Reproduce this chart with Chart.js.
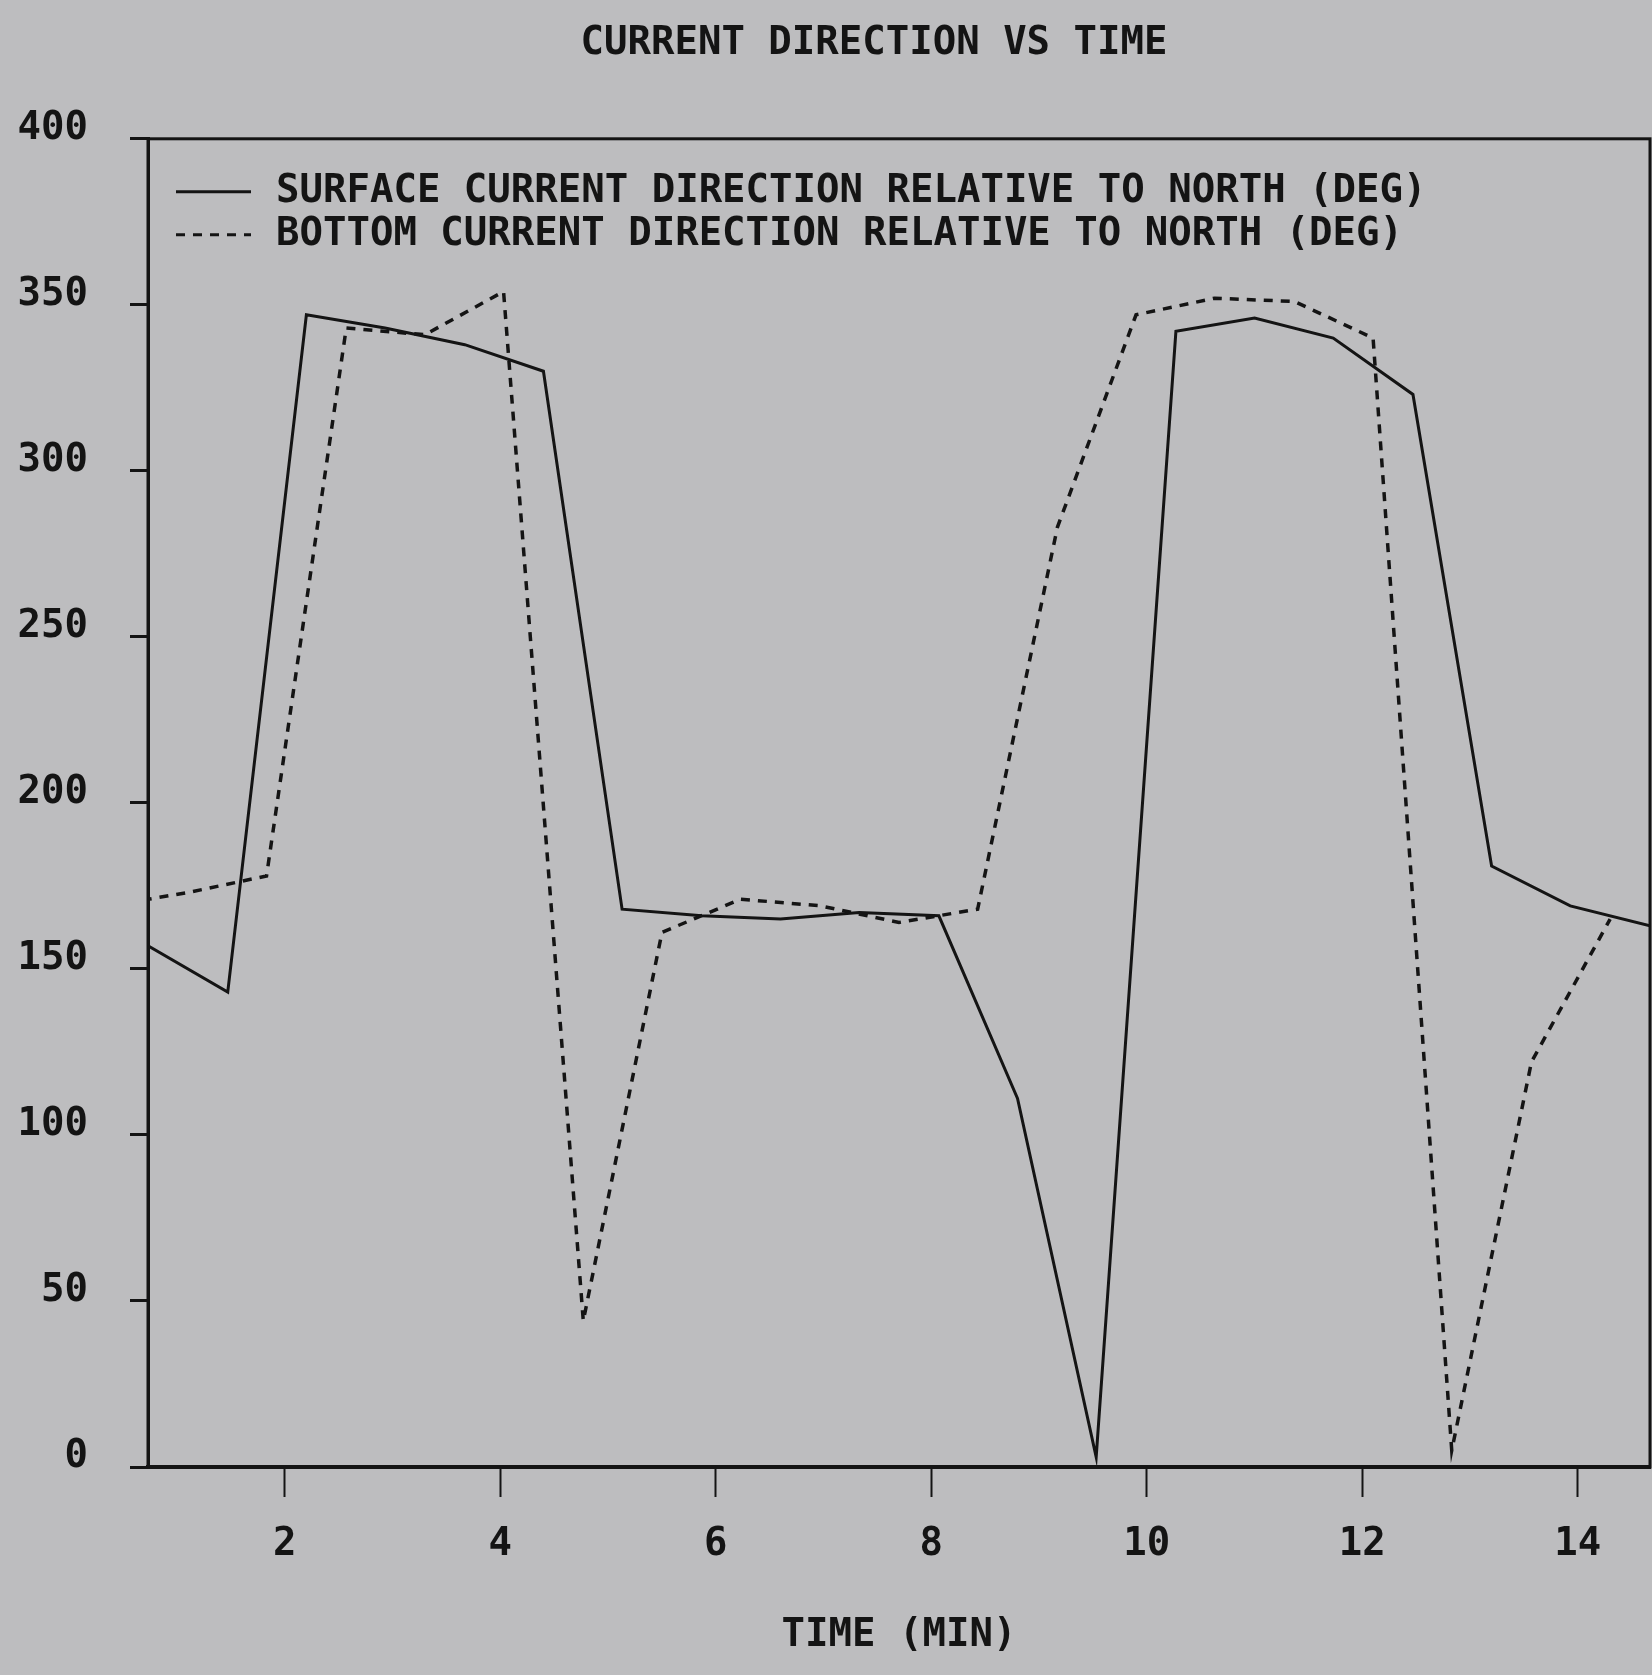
<!DOCTYPE html>
<html>
<head>
<meta charset="utf-8">
<title>Current direction vs time</title>
<script src="https://cdn.jsdelivr.net/npm/chart.js@4.4.1/dist/chart.umd.min.js"></script>
<style>
  body { margin: 0; background: #bdbdbf; }
  canvas { display: block; }
</style>
</head>
<body>
<canvas id="chart" width="1652" height="1675"></canvas>
<script>
// time in minutes, one reading every ~44 s
const surfaceTime = [0.73, 1.47, 2.2, 2.93, 3.67, 4.4, 5.13, 5.87, 6.6, 7.33, 8.07, 8.8, 9.53, 10.27, 11.0, 11.73, 12.47, 13.2, 13.93, 14.67];
const surfaceDir = [157, 143, 347, 343, 338, 330, 168, 166, 165, 167, 166, 111, 3, 342, 346, 340, 323, 181, 169, 163];

// bottom readings sit half a step later
const bottomTime = [0.37, 1.1, 1.83, 2.57, 3.3, 4.03, 4.77, 5.5, 6.23, 6.97, 7.7, 8.43, 9.17, 9.9, 10.63, 11.37, 12.1, 12.83, 13.57, 14.3];
const bottomDir = [169, 173, 178, 343, 341, 354, 44, 161, 171, 169, 164, 168, 283, 347, 352, 351, 340, 5, 122, 165];

const xTicks = [2, 4, 6, 8, 10, 12, 14];
const yTicks = [0, 50, 100, 150, 200, 250, 300, 350, 400];

const ink = '#141414';
const plotFont = 'DejaVu Sans Mono';

function toPoints(xs, ys) {
    return xs.map((x, i) => ({ x: x, y: ys[i] }));
}

// paper colour behind everything
const paper = {
    id: 'paper',
    beforeDraw(chart) {
        const ctx = chart.ctx;
        ctx.save();
        ctx.fillStyle = '#bdbdbf';
        ctx.fillRect(0, 0, chart.width, chart.height);
        ctx.restore();
    }
};

// closed frame round the plot
const frame = {
    id: 'frame',
    afterDatasetsDraw(chart) {
        const { ctx, chartArea: a } = chart;
        ctx.save();
        ctx.strokeStyle = ink;
        ctx.lineWidth = 3;
        ctx.strokeRect(a.left, a.top, a.right - a.left, a.bottom - a.top);
        ctx.restore();
    }
};

// title in the original sits a bit left of the plot centre
const titleNudge = {
    id: 'titleNudge',
    afterLayout(chart) {
        chart.titleBlock.left -= 25;
        chart.titleBlock.right -= 25;
    }
};

// legend drawn inside the frame, top left, with the dash pattern of each line
const lineLegend = {
    id: 'lineLegend',
    afterDraw(chart) {
        const { ctx, chartArea: a } = chart;
        ctx.save();
        ctx.font = 'bold 39px "' + plotFont + '"';
        ctx.textBaseline = 'middle';
        chart.data.datasets.forEach((ds, i) => {
            const x = a.left + 28;
            const y = a.top + 53 + i * 43;
            ctx.strokeStyle = ds.borderColor;
            ctx.lineWidth = 3;
            ctx.setLineDash(ds.borderDash || []);
            ctx.beginPath();
            ctx.moveTo(x, y);
            ctx.lineTo(x + 75, y);
            ctx.stroke();
            ctx.setLineDash([]);
            ctx.fillStyle = ink;
            ctx.fillText(ds.label, x + 100, y);
        });
        ctx.restore();
    }
};

const ctx = document.getElementById('chart').getContext('2d');
const chart = new Chart(ctx, {
    type: 'line',
    data: {
        datasets: [{
            label: 'SURFACE CURRENT DIRECTION RELATIVE TO NORTH (DEG)',
            data: toPoints(surfaceTime, surfaceDir),
            borderColor: ink,
            borderWidth: 3,
            pointRadius: 0,
            tension: 0
        }, {
            label: 'BOTTOM CURRENT DIRECTION RELATIVE TO NORTH (DEG)',
            data: toPoints(bottomTime, bottomDir),
            borderColor: ink,
            borderWidth: 3.5,
            borderDash: [9, 8],
            pointRadius: 0,
            tension: 0
        }]
    },
    options: {
        responsive: false,
        devicePixelRatio: 1,
        animation: false,
        layout: {
            padding: { left: 18, right: 2, top: 0, bottom: 0 }
        },
        plugins: {
            title: {
                display: true,
                text: 'CURRENT DIRECTION VS TIME',
                color: ink,
                fullSize: false,
                font: { family: plotFont, size: 39, weight: 'bold' },
                padding: { top: 20, bottom: 72 }
            },
            legend: { display: false },
            tooltip: { enabled: false }
        },
        scales: {
            x: {
                type: 'linear',
                min: surfaceTime[0],
                max: surfaceTime[surfaceTime.length - 1],
                afterBuildTicks(scale) {
                    scale.ticks = xTicks.map((v) => ({ value: v }));
                },
                afterFit(scale) {
                    scale.height = 208;
                },
                grid: {
                    drawOnChartArea: false,
                    tickLength: 30,
                    tickWidth: 2,
                    tickColor: ink
                },
                border: { display: true, color: ink, width: 4 },
                ticks: {
                    color: ink,
                    padding: 24,
                    maxRotation: 0,
                    font: { family: plotFont, size: 39, weight: 'bold' }
                },
                title: {
                    display: true,
                    text: 'TIME (MIN)',
                    color: ink,
                    font: { family: plotFont, size: 39, weight: 'bold' },
                    padding: { top: 20, bottom: 16 }
                }
            },
            y: {
                min: yTicks[0],
                max: yTicks[yTicks.length - 1],
                afterBuildTicks(scale) {
                    scale.ticks = yTicks.map((v) => ({ value: v }));
                },
                afterFit(scale) {
                    scale.width = 130;
                },
                grid: {
                    drawOnChartArea: false,
                    tickLength: 18,
                    tickWidth: 3,
                    tickColor: ink
                },
                border: { display: true, color: ink, width: 3 },
                ticks: {
                    color: ink,
                    padding: 42,
                    labelOffset: -10,
                    font: { family: plotFont, size: 39, weight: 'bold' }
                }
            }
        }
    },
    plugins: [paper, frame, titleNudge, lineLegend]
});
</script>
</body>
</html>
